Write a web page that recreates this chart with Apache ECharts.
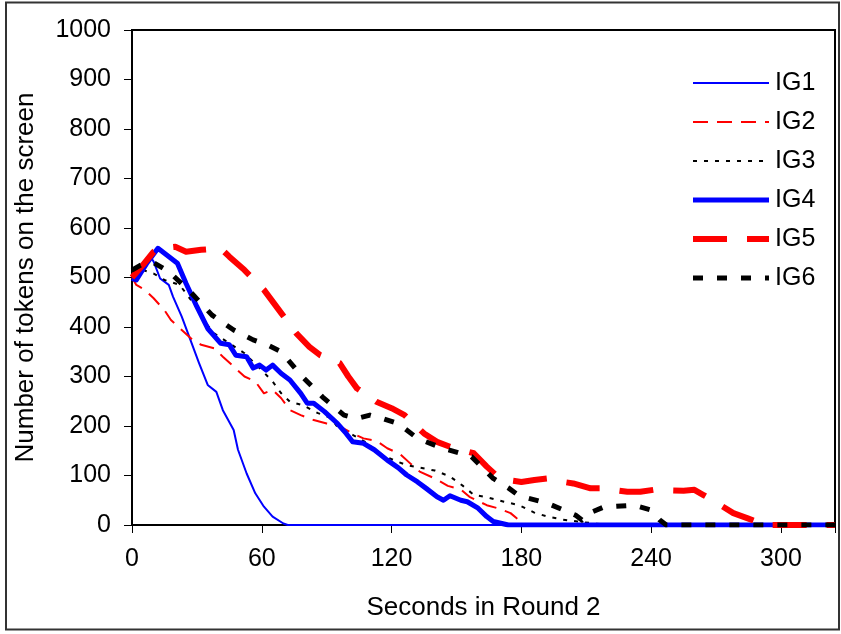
<!DOCTYPE html>
<html>
<head>
<meta charset="utf-8">
<script src="https://cdn.jsdelivr.net/npm/echarts@6/dist/echarts.min.js"></script>
<style>
html,body{margin:0;padding:0;background:#fff;}
#chart{width:841px;height:634px;}
</style>
</head>
<body>
<div id="chart"></div>
<script>
// x tick labels (seconds) and y range
const xTicks = [0, 60, 120, 180, 240, 300];
const seriesNames = ['IG1', 'IG2', 'IG3', 'IG4', 'IG5', 'IG6'];

const ig1T = [0, 4, 8, 10, 13, 17, 19, 23, 27, 31, 35, 39, 42, 47, 49, 53, 57, 61, 65, 70, 72, 325];
const ig1V = [505, 520, 545, 532, 498, 485, 461, 421, 374, 327, 283, 269, 232, 192, 152, 104, 64, 37, 17, 3, 0, 0];

const ig2T = [0, 2, 6, 10, 15, 18, 23, 28, 32, 38, 42, 47, 52, 57, 61, 65, 69, 73, 78, 84, 90, 95, 102, 107, 113, 118, 124, 129, 133, 140, 146, 152, 156, 164, 169, 175, 178, 181, 183, 325];
const ig2V = [500, 485, 475, 458, 434, 414, 394, 374, 364, 357, 340, 320, 300, 290, 266, 273, 256, 232, 222, 212, 205, 202, 185, 175, 170, 155, 143, 123, 108, 94, 79, 72, 57, 40, 34, 24, 13, 3, 0, 0];

const ig3T = [0, 5, 10, 15, 22, 25, 30, 33, 38, 44, 52, 59, 65, 69, 73, 79, 86, 92, 96, 102, 109, 114, 121, 127, 134, 140, 147, 153, 158, 165, 172, 179, 186, 192, 199, 206, 214, 220, 325];
const ig3V = [518, 515, 508, 495, 485, 468, 438, 414, 387, 370, 347, 317, 290, 266, 249, 242, 226, 216, 192, 182, 165, 145, 131, 121, 115, 110, 98, 79, 61, 55, 47, 40, 25, 17, 11, 7, 3, 0, 0];

const ig4T = [0, 2, 7, 12, 15, 21, 25, 30, 35, 41, 45, 48, 53, 56, 59, 62, 65, 69, 73, 78, 81, 84, 89, 95, 99, 102, 107, 112, 118, 123, 127, 132, 136, 141, 144, 147, 152, 155, 160, 164, 167, 172, 174, 325];
const ig4V = [498, 495, 530, 559, 549, 529, 488, 441, 397, 367, 364, 343, 340, 317, 323, 313, 323, 306, 293, 266, 246, 246, 229, 205, 185, 168, 165, 152, 131, 116, 101, 87, 74, 57, 50, 59, 50, 47, 34, 17, 7, 2, 0, 0];

const ig5T = [0, 5, 10, 15, 20, 25, 32, 41, 45, 52, 61, 69, 76, 82, 87, 96, 100, 104, 113, 120, 126, 135, 141, 147, 158, 164, 169, 175, 180, 186, 192, 198, 204, 212, 217, 229, 235, 241, 255, 260, 264, 268, 278, 285, 291, 293, 325];
const ig5V = [500, 525, 552, 560, 562, 552, 556, 559, 542, 515, 475, 428, 387, 360, 343, 327, 300, 276, 249, 236, 222, 185, 168, 158, 145, 118, 98, 90, 87, 91, 94, 88, 84, 74, 74, 67, 67, 71, 69, 71, 61, 51, 24, 13, 3, 0, 0];

const ig6T = [0, 4, 10, 17, 27, 37, 47, 56, 62, 69, 78, 88, 98, 104, 110, 116, 123, 132, 143, 157, 167, 174, 179, 192, 205, 208, 212, 218, 232, 240, 244, 247, 325];
const ig6V = [515, 525, 530, 512, 471, 424, 394, 374, 365, 350, 303, 259, 222, 215, 222, 215, 205, 175, 156, 138, 94, 75, 59, 44, 20, 10, 25, 36, 40, 30, 10, 0, 0];

const colors = ['#0000ff', '#ff0000', '#000000', '#0000ff', '#ff0000', '#000000'];
const widths = [2, 2, 2, 5, 6, 5];
const dashes = ['solid', [15, 9], [4, 7], 'solid', [34, 20], [10, 14]];
const allT = [ig1T, ig2T, ig3T, ig4T, ig5T, ig6T];
const allV = [ig1V, ig2V, ig3V, ig4V, ig5V, ig6V];

const FONT = 'Liberation Sans, Arial, sans-serif';

const series = seriesNames.map((name, i) => ({
  name: name,
  type: 'line',
  data: allT[i].map((t, k) => [t, allV[i][k]]),
  symbol: 'none',
  showSymbol: false,
  lineStyle: { color: colors[i], width: widths[i], type: dashes[i], cap: 'butt', join: 'round' },
  itemStyle: { color: colors[i] },
  z: 2 + i
}));

const chart = echarts.init(document.getElementById('chart'), null, { renderer: 'canvas' });
chart.setOption({
  animation: false,
  backgroundColor: '#ffffff',
  textStyle: { fontFamily: FONT },
  graphic: [{
    type: 'rect',
    shape: { x: 6, y: 2.5, width: 833, height: 627 },
    style: { fill: null, stroke: '#333', lineWidth: 2 },
    silent: true
  }],
  grid: { left: 132, right: 6, top: 30, bottom: 109, show: true, borderColor: '#000', borderWidth: 2, backgroundColor: '#fff' },
  legend: {
    data: seriesNames,
    orient: 'vertical',
    left: 690,
    top: 70,
    padding: 0,
    itemWidth: 76,
    itemHeight: 14,
    itemGap: 13,
    itemStyle: { opacity: 0 },
    lineStyle: { width: 'inherit', type: 'inherit', color: 'inherit', cap: 'butt' },
    textStyle: { fontSize: 25, lineHeight: 26, color: '#000', fontFamily: FONT, padding: [0, 0, 0, 1] }
  },
  xAxis: {
    type: 'value',
    min: 0,
    max: 325,
    interval: 60,
    name: 'Seconds in Round 2',
    nameLocation: 'middle',
    nameGap: 70,
    nameTextStyle: { fontSize: 26, color: '#000', fontFamily: FONT },
    axisLine: { show: true, onZero: false, lineStyle: { color: '#000', width: 2 } },
    axisTick: { show: true, length: 8, lineStyle: { color: '#000', width: 1 } },
    axisLabel: {
      fontSize: 25, color: '#000', margin: 22, fontFamily: FONT,
      formatter: v => (xTicks.indexOf(v) >= 0 ? String(v) : '')
    },
    splitLine: { show: false }
  },
  yAxis: {
    type: 'value',
    min: 0,
    max: 1000,
    interval: 100,
    name: 'Number of tokens on the screen',
    nameLocation: 'middle',
    nameGap: 93,
    nameTextStyle: { fontSize: 26, color: '#000', fontFamily: FONT },
    axisLine: { show: true, lineStyle: { color: '#000', width: 2 } },
    axisTick: { show: true, length: 8, lineStyle: { color: '#000', width: 1 } },
    axisLabel: { fontSize: 25, color: '#000', margin: 21, fontFamily: FONT, formatter: v => String(v) },
    splitLine: { show: false }
  },
  series: series
});
</script>
</body>
</html>
